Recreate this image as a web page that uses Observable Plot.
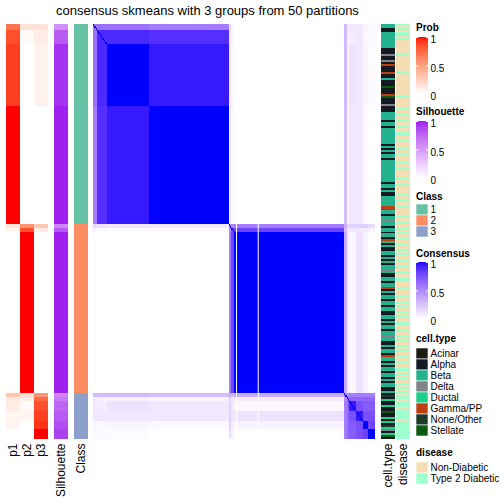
<!DOCTYPE html>
<html><head><meta charset="utf-8">
<script src="https://cdn.jsdelivr.net/npm/d3@7"></script>
<script src="https://cdn.jsdelivr.net/npm/@observablehq/plot@0.6"></script>
<style>
body{margin:0;background:#fff;font-family:"Liberation Sans",Arial,sans-serif;}
#root{position:relative;width:504px;height:504px;overflow:hidden;background:#fff;}
.t{position:absolute;white-space:nowrap;color:#000;}
.lt{font-size:10px;font-weight:bold;line-height:12px;}
</style></head><body><div id="root"></div>
<script>
// ---------------- data ----------------
// sample segments (in display order)
const segSize  = [3, 7, 31, 59, 2, 2, 81, 2, 2, 5, 5, 4, 5];
const segClass = [1, 1, 1, 1, 2, 2, 2, 3, 3, 3, 3, 3, 3];
const segP1    = [0.7, 0.85, 0.9, 1.0, 0.15, 0.05, 0.0, 0.3, 0.12, 0.1, 0.05, 0.06, 0.0];
const segP2    = [0.15, 0.03, 0.0, 0.0, 0.55, 0.85, 1.0, 0.15, 0.1, 0.03, 0.05, 0.0, 0.0];
const segP3    = [0.15, 0.1, 0.07, 0.0, 0.3, 0.1, 0.0, 0.55, 0.75, 0.85, 0.9, 0.93, 1.0];
const segSil   = [0.55, 0.8, 0.95, 1.0, 0.6, 0.8, 1.0, 0.6, 0.65, 0.75, 0.8, 0.85, 0.9];
// consensus between segments (symmetric)
const consensus = [
 [0.6,0.6,0.6,0.55, 0.15,0.05,0, 0.3,0.08,0.1,0.1,0.05,0.03],
 [0.6,0.9,0.9,0.88, 0.12,0.03,0, 0.3,0.06,0.08,0.1,0.03,0.02],
 [0.6,0.9,1.0,0.95, 0.1,0.02,0, 0.3,0.06,0.12,0.1,0.04,0.02],
 [0.55,0.88,0.95,1.0, 0.1,0.02,0, 0.28,0.05,0.1,0.1,0.03,0.0],
 [0.15,0.12,0.1,0.1, 0.5,0.5,0.55, 0.35,0.2,0.2,0.2,0.2,0.15],
 [0.05,0.03,0.02,0.02, 0.5,0.75,0.8, 0.3,0.1,0.1,0.1,0.08,0.05],
 [0,0,0,0, 0.55,0.8,1.0, 0.35,0.08,0.03,0.12,0.05,0],
 [0.3,0.3,0.3,0.28, 0.35,0.3,0.35, 0.5,0.5,0.55,0.55,0.55,0.55],
 [0.08,0.06,0.06,0.05, 0.2,0.1,0.08, 0.5,0.7,0.65,0.65,0.65,0.65],
 [0.1,0.08,0.12,0.1, 0.2,0.1,0.03, 0.55,0.65,0.95,0.75,0.7,0.7],
 [0.1,0.1,0.1,0.1, 0.2,0.1,0.12, 0.55,0.65,0.75,0.95,0.75,0.75],
 [0.05,0.03,0.04,0.03, 0.2,0.08,0.05, 0.55,0.65,0.7,0.75,1.0,0.8],
 [0.03,0.02,0.02,0.0, 0.15,0.05,0, 0.55,0.65,0.7,0.75,0.8,1.0]
];
// sample columns that render as thin white lines
const whiteCols = [105, 121];
// per-sample cell type codes (c Acinar, a Alpha, b Beta, d Delta, u Ductal, g Gamma/PP, n None/Other, s Stellate)
const cellTypeCodes =
 "bbaabbbbbb"+"bbaaadaada"+"gaaagaabaa"+"asaaagsaaa"+"daaabbbbab"+
 "babbbbbbbb"+"abababbabb"+"bbbbbbbbba"+"bbabaabbbb"+"bggbbabbdb"+
 "babbabbagb"+"abaabbabab"+"abbdbaabba"+"bbgababbab"+"babbaabbab"+
 "abbabbdbba"+"ababbagbba"+"babbabbaba"+"bbaab"+
 "anauaauaas"+"aauauanuda"+"usa";
// per-sample disease codes (N Non-Diabetic, T Type 2 Diabetic)
const diseaseCodes =
 "TNTNTTNTNN"+"NNNNNTNNNN"+"NNNNTNNNNN"+"NNNNNNTNNN"+"NNTNNTNNTN"+
 "NTNNTTNNTN"+"NNTNNTNNNT"+"NNTNNNNTNN"+"TNNNNTNNTN"+"NTNNNNTNNT"+
 "NNTNTNNTNN"+"TNNTNTNNTN"+"NTNNTNNTTN"+"NNTNNNTNNT"+"NTNNTNTNNT"+
 "TNNTNNTNTN"+"NTNTNNTNNT"+"NNTTNTNTNN"+"TNTNT"+
 "NTTNTTTNTT"+"TTTNTTTTTT"+"TTT";
const cellTypes = ["Acinar","Alpha","Beta","Delta","Ductal","Gamma/PP","None/Other","Stellate"];
const cellTypeKeys = ["c","a","b","d","u","g","n","s"];
const cellTypeColors = ["#1b1b14","#151a22","#23b28e","#808285","#1ecf89","#be3f12","#1c3a2a","#0b5a10"];
const diseases = ["Non-Diabetic","Type 2 Diabetic"];
const diseaseKeys = ["N","T"];
const diseaseColors = ["#f5deb3","#a0ffcf"];
const classes = ["1","2","3"];
const classColors = ["#66c2a5","#fc8d62","#8da0cb"];
const titleText = "consensus skmeans with 3 groups from 50 partitions";

// ---------------- layout ----------------
const root = document.getElementById("root");
const FONT = "'Liberation Sans', Arial, sans-serif";
const bodyTop = 24, bodyH = 415;
const N = d3.sum(segSize);
const segStart = segSize.map((s,k)=>d3.sum(segSize.slice(0,k)));
function place(node, left, top){ node.style.position="absolute"; node.style.left=left+"px"; node.style.top=top+"px"; root.appendChild(node); }
function text(str, left, top, cls, extra){ const d=document.createElement("div"); d.className="t "+cls; d.textContent=str; d.style.left=left+"px"; d.style.top=top+"px"; if(extra) Object.assign(d.style, extra); root.appendChild(d); return d; }
const consScale = {type:"linear", domain:[0,1], range:["#ffffff","#0000ff"], interpolate:d3.interpolateLab};
const probScale = {type:"linear", domain:[0,1], range:["#ffffff","#ff0000"], interpolate:d3.interpolateLab};
const silScale  = {type:"linear", domain:[0,1], range:["#ffffff","#a020f0"], interpolate:d3.interpolateLab};
const baseStyle = {background:"transparent", fontFamily:FONT, overflow:"visible", color:"#000"};
const yBody = {domain:[0,N], range:[0,bodyH], axis:null};
const bottomAxis = () => Plot.axisX({anchor:"bottom", tickSize:0, tickRotate:-90, tickPadding:4, fontSize:12, label:null});

// title
text(titleText, 0, 3, "", {width:"415px", textAlign:"center", fontSize:"13px", lineHeight:"16px"});

// probability columns
const probData = [];
segSize.forEach((s,k)=>{
  [["p1",segP1],["p2",segP2],["p3",segP3]].forEach(([name,arr])=>probData.push({col:name,y1:segStart[k],y2:segStart[k]+s,v:arr[k]}));
});
place(Plot.plot({width:43, height:bodyH+60, margin:0, marginBottom:60, style:baseStyle,
  x:{type:"band", domain:["p1","p2","p3"], padding:0},
  y:yBody, color:probScale,
  marks:[Plot.barY(probData,{x:"col", y1:"y1", y2:"y2", fill:"v", shapeRendering:"crispEdges"}), bottomAxis()]
}), 5, bodyTop);

// silhouette column
const silData = segSize.map((s,k)=>({col:"Silhouette", y1:segStart[k], y2:segStart[k]+s, v:segSil[k]}));
place(Plot.plot({width:14, height:bodyH+60, margin:0, marginBottom:60, style:baseStyle,
  x:{type:"band", domain:["Silhouette"], padding:0},
  y:yBody, color:silScale,
  marks:[Plot.barY(silData,{x:"col", y1:"y1", y2:"y2", fill:"v", shapeRendering:"crispEdges"}), bottomAxis()]
}), 54, bodyTop);

// class column
const classData = segSize.map((s,k)=>({col:"Class", y1:segStart[k], y2:segStart[k]+s, c:String(segClass[k])}));
place(Plot.plot({width:14, height:bodyH+60, margin:0, marginBottom:60, style:baseStyle,
  x:{type:"band", domain:["Class"], padding:0},
  y:yBody, color:{type:"ordinal", domain:classes, range:classColors},
  marks:[Plot.barY(classData,{x:"col", y1:"y1", y2:"y2", fill:"c", shapeRendering:"crispEdges"}), bottomAxis()]
}), 74, bodyTop);

// consensus matrix
const cells = [];
segSize.forEach((sa,a)=>segSize.forEach((sb,b)=>cells.push({x1:segStart[b],x2:segStart[b]+sb,y1:segStart[a],y2:segStart[a]+sa,v:consensus[a][b]})));
const diag = d3.range(N);
place(Plot.plot({width:282, height:bodyH, margin:0, style:baseStyle,
  x:{domain:[0,N], range:[0,282], axis:null},
  y:yBody, color:consScale,
  marks:[
    Plot.rect(cells,{x1:"x1",x2:"x2",y1:"y1",y2:"y2",fill:"v", shapeRendering:"crispEdges"}),
    Plot.rect(diag,{x1:i=>i, x2:i=>i+1, y1:i=>i, y2:i=>i+1, fill:()=>1, shapeRendering:"crispEdges"}),
    Plot.ruleX(whiteCols,{x:d=>d+0.5, stroke:"white", strokeWidth:1})
  ]
}), 93, bodyTop);

// right annotations
const annoData = [];
for (let i=0;i<N;i++){
  const ct = cellTypeKeys.indexOf(cellTypeCodes[i]);
  const ds = diseaseKeys.indexOf(diseaseCodes[i]);
  if (ct>=0) annoData.push({col:"cell.type", y1:i, y2:i+1, fill:cellTypeColors[ct]});
  if (ds>=0) annoData.push({col:"disease", y1:i, y2:i+1, fill:diseaseColors[ds]});
}
place(Plot.plot({width:29, height:bodyH+60, margin:0, marginBottom:60, style:baseStyle,
  x:{type:"band", domain:["cell.type","disease"], paddingInner:1/15, paddingOuter:0},
  y:yBody, color:{type:"identity"},
  marks:[Plot.barY(annoData,{x:"col", y1:"y1", y2:"y2", fill:"fill", shapeRendering:"crispEdges"}), bottomAxis()]
}), 381, bodyTop);

// ---------------- legends ----------------
const LX = 416;
function gradLegend(title, scale, titleY, top, h){
  text(title, LX, titleY-6, "lt");
  const slices = d3.range(h).map(j=>({y1:j/h, y2:(j+1)/h, v:(j+0.5)/h}));
  place(Plot.plot({width:50, height:h+12, marginTop:6, marginBottom:6, marginLeft:0, marginRight:38, style:baseStyle,
    x:{domain:[0,1], range:[0,12], axis:null}, y:{domain:[0,1], axis:null},
    color:scale,
    marks:[
      Plot.rect(slices,{x1:0,x2:1,y1:"y1",y2:"y2",fill:"v", shapeRendering:"crispEdges"}),
      Plot.ruleY([0,0.5,1],{x1:0,x2:0.18,stroke:"white"}),
      Plot.ruleY([0,0.5,1],{x1:0.82,x2:1,stroke:"white"}),
      Plot.axisY({anchor:"right", ticks:[0,0.5,1], tickSize:0, tickPadding:2, dy:2.5, tickFormat:d=>String(d), fontSize:10})
    ]}), LX, top-6);
}
function swatchLegend(title, domain, colors, titleY, top, sh){
  text(title, LX, titleY-6, "lt");
  place(Plot.plot({width:100, height:domain.length*sh, margin:0, marginRight:88, style:baseStyle,
    x:{type:"band", domain:["s"], padding:0, axis:null},
    y:{type:"band", domain, padding:0, axis:null},
    color:{type:"ordinal", domain, range:colors},
    marks:[
      Plot.cell(domain,{x:()=>"s", y:d=>d, fill:d=>d, inset:0, stroke:"white", strokeWidth:0.6}),
      Plot.axisY({anchor:"right", tickSize:0, tickPadding:2, fontSize:10})
    ]}), LX, top);
}
gradLegend("Prob", probScale, 28, 37, 57);
gradLegend("Silhouette", silScale, 112, 121, 57);
swatchLegend("Class", classes, classColors, 197, 204, 11.3);
gradLegend("Consensus", consScale, 254, 262, 57);
swatchLegend("cell.type", cellTypes, cellTypeColors, 339, 347, 11.25);
swatchLegend("disease", diseases, diseaseColors, 453, 462, 11.2);
</script></body></html>
